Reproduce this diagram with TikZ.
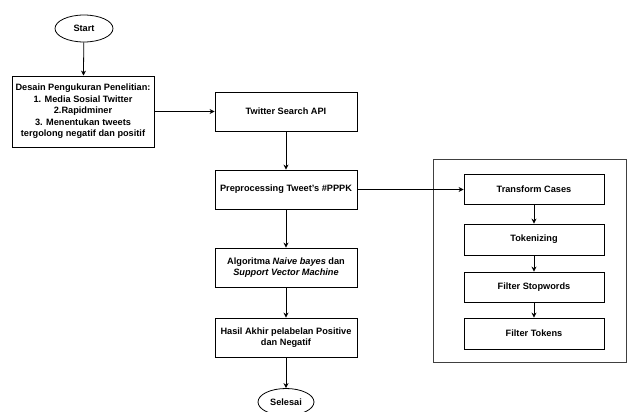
\documentclass[tikz,border=0pt]{standalone}
\usepackage{fontspec}
\setmainfont{Liberation Sans}
\usetikzlibrary{arrows.meta,shapes.geometric}
\begin{document}
\begin{tikzpicture}[x=1pt,y=-1pt,
  every node/.style={font=\fontsize{9.2}{11.5}\selectfont\bfseries, align=center, inner sep=0pt},
  box/.style={draw, line width=0.8pt, rectangle},
  oval/.style={draw, line width=0.8pt, ellipse},
  conn/.style={draw, line width=0.8pt, -{Stealth[length=5pt,width=5pt]}}]
\useasboundingbox (0,0) rectangle (627,412);
\node[oval, minimum width=58pt, minimum height=27pt] (start) at (84,28.5) {Start};
\node[box, minimum width=142pt, minimum height=71pt] (desain) at (83,111.5)
  {Desain Pengukuran Penelitian:\\1. Media Sosial Twitter\\2.Rapidminer\\3. Menentukan tweets\\tergolong negatif dan positif};
\node[box, minimum width=142pt, minimum height=39pt] (twitter) at (286,111.5) {Twitter Search API};
\node[box, minimum width=142pt, minimum height=39pt] (prep) at (286,189.5) {Preprocessing Tweet's \#PPPK};
\node[box, minimum width=142pt, minimum height=39pt] (algo) at (286,267.5) {Algoritma \textit{Naive bayes} dan\\\textit{Support Vector Machine}};
\node[box, minimum width=142pt, minimum height=39pt] (hasil) at (286,337.5) {Hasil Akhir pelabelan Positive\\dan Negatif};
\node[oval, minimum width=56pt, minimum height=27pt] (selesai) at (286,402) {Selesai};
\node[draw=black!75, line width=0.8pt, rectangle, minimum width=193pt, minimum height=203pt] (group) at (529.5,260.5) {};
\node[box, minimum width=140pt, minimum height=30pt] (tc) at (534,189) {Transform Cases};
\node[box, minimum width=140pt, minimum height=31pt] (tok) at (534,239.5) {Tokenizing};
\node[box, minimum width=140pt, minimum height=30pt] (fs) at (534,287) {Filter Stopwords};
\node[box, minimum width=140pt, minimum height=31pt] (ft) at (534,333.5) {Filter Tokens};
\draw[conn] (start) -- (desain);
\draw[conn] (desain) -- (twitter);
\draw[conn] (twitter) -- (prep);
\draw[conn] (prep) -- (algo);
\draw[conn] (algo) -- (hasil);
\draw[conn] (hasil) -- (selesai);
\draw[conn] (prep.east) -- (prep.east -| tc.west);
\draw[conn] (tc) -- (tok);
\draw[conn] (tok) -- (fs);
\draw[conn] (fs) -- (ft);
\end{tikzpicture}
\end{document}
